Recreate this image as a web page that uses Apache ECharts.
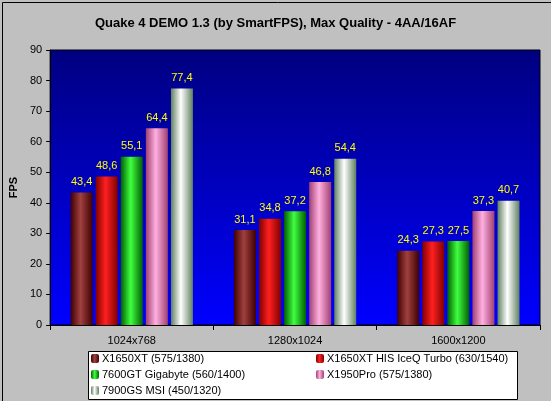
<!DOCTYPE html><html><head><meta charset="utf-8"><script src="https://cdn.jsdelivr.net/npm/echarts@6/dist/echarts.min.js"></script>
<style>html,body{margin:0;padding:0;background:#c0c0c0}#c{width:551px;height:401px}</style></head><body><div id="c"></div><script>
const categories=['1024x768','1280x1024','1600x1200'];
const seriesNames=['X1650XT (575/1380)','X1650XT HIS IceQ Turbo (630/1540)','7600GT Gigabyte (560/1400)','X1950Pro (575/1380)','7900GS MSI (450/1320)'];
const s1=[43.4,31.1,24.3];
const s2=[48.6,34.8,27.3];
const s3=[55.1,37.2,27.5];
const s4=[64.4,46.8,37.3];
const s5=[77.4,54.4,40.7];
const yTicks=[0,10,20,30,40,50,60,70,80,90];
const cols=[['#400000','#a04040'],['#800000','#ff2020'],['#006000','#40ff40'],['#a04070','#ffb0e0'],['#608060','#ffffff']];
const legendCols=['#800000','#ff0000','#00c000','#ff80c0','#c0ffc0'];
function grad(c){return new echarts.graphic.LinearGradient(0,0,1,0,[{offset:0,color:c[0]},{offset:0.45,color:c[1]},{offset:1,color:c[0]}]);}
const data=[s1,s2,s3,s4,s5];
const ch=echarts.init(document.getElementById('c'));
ch.setOption({
 animation:false,backgroundColor:'#c0c0c0',
 title:{text:'Quake 4 DEMO 1.3 (by SmartFPS), Max Quality - 4AA/16AF',left:'center',top:12,textStyle:{fontFamily:'Arial',fontSize:13,fontWeight:'bold',color:'#000'}},
 grid:{left:47,right:11,top:50,bottom:76,show:true,borderWidth:1,borderColor:'#000',backgroundColor:new echarts.graphic.LinearGradient(0,0,0,1,[{offset:0,color:'#000080'},{offset:1,color:'#0000ff'}])},
 xAxis:{type:'category',data:categories,axisLine:{lineStyle:{color:'#000'}},axisTick:{show:true,length:5,lineStyle:{color:'#000'}},axisLabel:{color:'#000',fontFamily:'Arial',fontSize:11,margin:10}},
 yAxis:{type:'value',min:0,max:90,interval:10,name:'FPS',nameLocation:'middle',nameGap:30,nameTextStyle:{fontFamily:'Arial',fontSize:11,fontWeight:'bold',color:'#000'},axisLine:{show:true,lineStyle:{color:'#000'}},axisTick:{show:true,length:4,lineStyle:{color:'#000'}},splitLine:{show:false},axisLabel:{color:'#000',fontFamily:'Arial',fontSize:11,formatter:v=>yTicks.includes(v)?String(v):''}},
 legend:[
  {data:[seriesNames[0],seriesNames[2],seriesNames[4]],orient:'vertical',left:91,top:353,itemWidth:8,itemHeight:9,itemGap:5,textStyle:{fontFamily:'Arial',fontSize:11,color:'#000',padding:[0,0,0,-2]},padding:0},
  {data:[seriesNames[1],seriesNames[3]],orient:'vertical',left:316,top:353,itemWidth:8,itemHeight:9,itemGap:5,textStyle:{fontFamily:'Arial',fontSize:11,color:'#000',padding:[0,0,0,-2]},padding:0}
 ],
 graphic:[{type:'rect',left:88,top:351,shape:{width:429,height:48},style:{fill:'#fff',stroke:'#000',lineWidth:1},z:-1},
  {type:'rect',left:0,top:0,shape:{width:550,height:400},style:{fill:'none',stroke:'#000',lineWidth:1},z:-2}],
 series:data.map((d,i)=>({name:seriesNames[i],type:'bar',data:d,barWidth:22,barGap:'14%',barCategoryGap:'22%',
  itemStyle:{color:grad(cols[i])},
  label:{show:true,position:'top',color:'#ffff00',fontFamily:'Arial',fontSize:11,formatter:p=>String(p.value).replace('.',',')}
 })).map((s,i)=>Object.assign(s,{legendHoverLink:false}))
});
// legend icon colors
ch.setOption({series:data.map((d,i)=>({name:seriesNames[i],itemStyle:{color:grad(cols[i])}}))});
</script></body></html>
